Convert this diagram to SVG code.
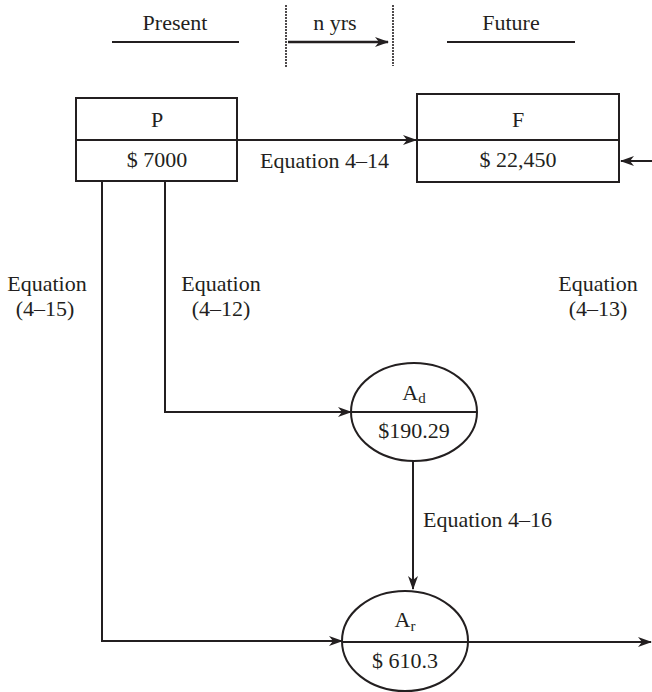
<svg xmlns="http://www.w3.org/2000/svg" width="652" height="692" viewBox="0 0 652 692">
  <style>
    text { font-family: "Liberation Serif", "DejaVu Serif", serif; font-size: 22px; fill: #231f20; }
    .mid { text-anchor: middle; }
    .sub { font-size: 15px; }
    .shape { fill: #fff; stroke: #231f20; stroke-width: 2; }
    .line { fill: none; stroke: #231f20; stroke-width: 2; }
    .bold { stroke-width: 2.6; }
    .rule { fill: none; stroke: #231f20; stroke-width: 2; }
    .dash { fill: none; stroke: #231f20; stroke-width: 1.6; stroke-dasharray: 2 1; }
  </style>
  <defs>
    <marker id="arrow" viewBox="0 0 14 10" refX="13" refY="5" markerWidth="14" markerHeight="10" markerUnits="userSpaceOnUse" orient="auto">
      <path d="M0,0 L14,5 L0,10 L4,5 z" fill="#231f20"/>
    </marker>
  </defs>

  <!-- time line header -->
  <g id="header">
    <text class="mid" x="175" y="30">Present</text>
    <line class="rule" x1="112" y1="42" x2="239" y2="42"/>
    <line class="dash" x1="286" y1="5" x2="286" y2="68"/>
    <line class="dash" x1="393" y1="5" x2="393" y2="66"/>
    <text class="mid" x="335" y="30">n yrs</text>
    <text class="mid" x="511" y="30">Future</text>
    <line class="rule" x1="447" y1="42" x2="575" y2="42"/>
  </g>

  <!-- connectors -->
  <g id="connectors">
    <line class="line bold" x1="288" y1="42" x2="388" y2="42" marker-end="url(#arrow)"/>
    <line class="line" x1="237" y1="140" x2="416" y2="140" marker-end="url(#arrow)"/>
    <line class="line" x1="652" y1="161" x2="621" y2="161" marker-end="url(#arrow)"/>
    <polyline class="line" points="165,181 165,412 351,412" marker-end="url(#arrow)"/>
    <polyline class="line" points="102,181 102,641 342,641" marker-end="url(#arrow)"/>
    <line class="line" x1="413" y1="461" x2="413" y2="589" marker-end="url(#arrow)"/>
    <line class="line" x1="468" y1="642" x2="651" y2="642" marker-end="url(#arrow)"/>
  </g>

  <!-- connector labels -->
  <g id="labels">
    <text x="260" y="168">Equation 4–14</text>
    <text class="mid" x="47" y="291">Equation</text>
    <text class="mid" x="45" y="316">(4–15)</text>
    <text class="mid" x="221" y="291">Equation</text>
    <text class="mid" x="221" y="316">(4–12)</text>
    <text class="mid" x="598" y="291">Equation</text>
    <text class="mid" x="598" y="316">(4–13)</text>
    <text x="423" y="527">Equation 4–16</text>
  </g>

  <g id="node-P">
    <rect class="shape" x="76" y="98" width="161" height="83"/>
    <line class="line" x1="76" y1="140" x2="237" y2="140"/>
    <text class="mid" x="157" y="127">P</text>
    <text class="mid" x="157" y="167">$ 7000</text>
  </g>

  <g id="node-F">
    <rect class="shape" x="417" y="94" width="202" height="88"/>
    <line class="line" x1="417" y1="140" x2="619" y2="140"/>
    <text class="mid" x="518" y="127">F</text>
    <text class="mid" x="518" y="167">$ 22,450</text>
  </g>

  <g id="node-Ad">
    <ellipse class="shape" cx="414" cy="412" rx="63" ry="49"/>
    <line class="line" x1="351" y1="412" x2="477" y2="412"/>
    <text class="mid" x="414" y="400">A<tspan class="sub" dy="3">d</tspan></text>
    <text class="mid" x="414" y="438">$190.29</text>
  </g>

  <g id="node-Ar">
    <ellipse class="shape" cx="405" cy="641" rx="63" ry="50"/>
    <line class="line" x1="342" y1="642" x2="468" y2="642"/>
    <text class="mid" x="405" y="627">A<tspan class="sub" dy="4">r</tspan></text>
    <text class="mid" x="405" y="668">$ 610.3</text>
  </g>
</svg>
